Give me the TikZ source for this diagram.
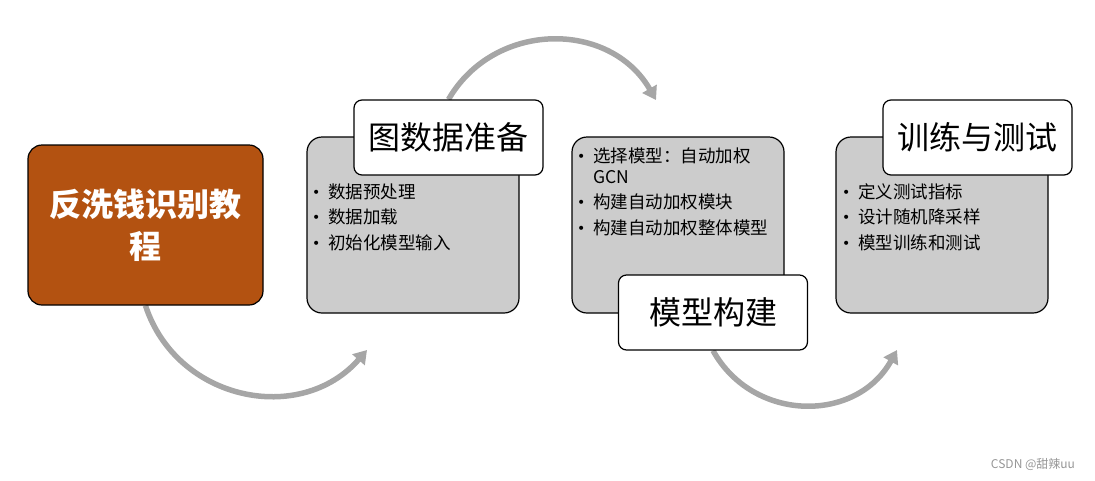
\documentclass[tikz,border=0pt]{standalone}
\usepackage{fontspec}
\setmainfont{Noto Sans CJK SC}
\newfontfamily\bulfont{DejaVu Sans}
\usetikzlibrary{arrows.meta}
\pgfdeclarelayer{background}
\pgfsetlayers{background,main}
\definecolor{brownfill}{RGB}{179,82,17}
\definecolor{boxgray}{RGB}{204,204,204}
\definecolor{arcgray}{RGB}{166,166,166}
\definecolor{markgray}{RGB}{150,150,150}
\newcommand{\bul}{\makebox[0pt][c]{\raisebox{1pt}{\bulfont\fontsize{14}{14}\selectfont •}}\hspace{12pt}}
\begin{document}
\begin{tikzpicture}[x=1pt,y=1pt,
  mainbox/.style={draw=black,line width=1.2pt,fill=brownfill,rounded corners=14pt,
    minimum width=235pt,minimum height=160pt,inner sep=0pt,text=white,align=center,
    font=\bfseries\fontsize{32}{42}\selectfont},
  graybox/.style={draw=black,line width=1.2pt,fill=boxgray,rounded corners=15pt,
    minimum width=212pt,minimum height=176pt,inner sep=0pt},
  titlebox/.style={draw=black,line width=1.2pt,fill=white,rounded corners=8pt,
    minimum width=189pt,minimum height=75pt,inner sep=0pt,
    font=\fontsize{32}{38}\selectfont},
  bulline/.style={anchor=west,inner sep=0pt,font=\fontsize{17.5}{21}\selectfont},
  flowarc/.style={draw=arcgray,line width=5.5pt,-{Triangle[length=13pt,width=16pt]}},
  mark/.style={}
]
\useasboundingbox (0,0) rectangle (1095,-480);

% main box
\node[mainbox] (main) at (145.5,-225) {反洗钱识别教\\程};

% stage 1
\node[graybox] (g1) at (413,-225) {};
\node[titlebox] (t1) at (448.5,-137.5) {图数据准备};
\node[bulline] (g1a) at (316,-192) {\bul 数据预处理};
\node[bulline] (g1b) at (316,-217) {\bul 数据加载};
\node[bulline] (g1c) at (316,-243) {\bul 初始化模型输入};

% stage 2
\node[graybox] (g2) at (678,-225) {};
\node[bulline] (g2a) at (581,-156) {\bul 选择模型：自动加权};
\node[bulline] (g2b) at (593,-177) {GCN};
\node[bulline] (g2c) at (581,-202) {\bul 构建自动加权模块};
\node[bulline] (g2d) at (581,-228) {\bul 构建自动加权整体模型};
\node[titlebox] (t2) at (713,-312.5) {模型构建};

% stage 3
\node[graybox] (g3) at (942,-225) {};
\node[titlebox] (t3) at (977.5,-137.5) {训练与测试};
\node[bulline] (g3a) at (846,-192) {\bul 定义测试指标};
\node[bulline] (g3b) at (846,-217) {\bul 设计随机降采样};
\node[bulline] (g3c) at (846,-243) {\bul 模型训练和测试};

% watermark
\node[inner sep=0pt,text=markgray,font=\fontsize{12}{14}\selectfont] (wm) at (1033,-464) {CSDN @甜辣uu};

% free ends of arcs
\coordinate (e1) at (367,-350);
\coordinate (e2) at (656,-100);
\coordinate (e3) at (897,-350);

\begin{pgfonlayer}{background}
\draw[flowarc] (main.south) .. controls (176.7,-401) and (300.7,-426) .. (e1);
\draw[flowarc] (t1.north) .. controls (494.5,-20.3) and (610,-20.3) .. (e2);
\draw[flowarc] (t2.south) .. controls (753.4,-423) and (856.6,-423) .. (e3);
\end{pgfonlayer}
\end{tikzpicture}
\end{document}
